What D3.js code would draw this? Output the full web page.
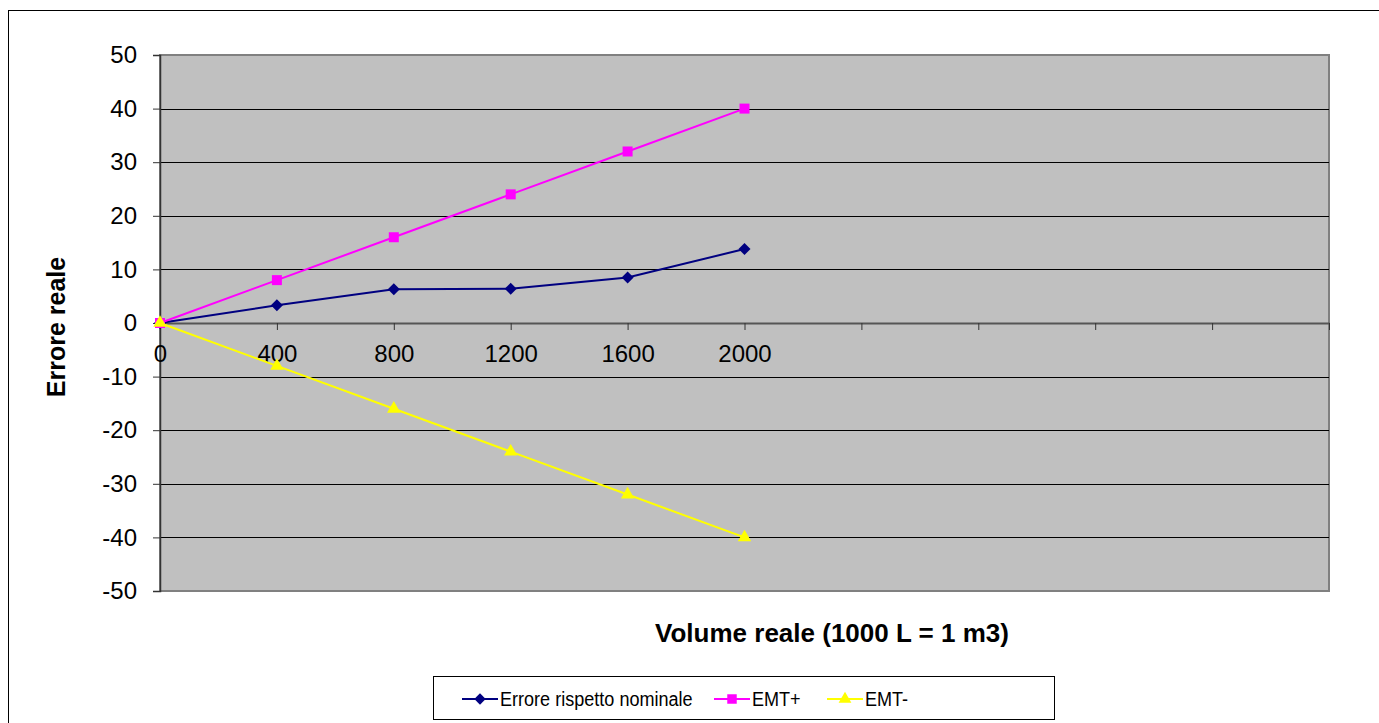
<!DOCTYPE html>
<html>
<head>
<meta charset="utf-8">
<script src="https://cdn.jsdelivr.net/npm/d3@7"></script>
<style>
  body { margin: 0; background: #fff; }
  svg { font-family: "Liberation Sans", Arial, sans-serif; }
</style>
</head>
<body>
<div id="chart"></div>
<script>
// DATA
const volumes = [0, 400, 800, 1200, 1600, 2000];
const errore = [0, 3.3, 6.3, 6.4, 8.5, 13.8];
const emtPlus = [0, 8, 16, 24, 32, 40];
const emtMinus = [0, -8, -16, -24, -32, -40];
const xTicks = [0, 400, 800, 1200, 1600, 2000, 2400, 2800, 3200, 3600, 4000];
const xLabelled = [0, 400, 800, 1200, 1600, 2000];
const yTicks = [-50, -40, -30, -20, -10, 0, 10, 20, 30, 40, 50];

// a diamond is a square turned 45 degrees
const seriesList = [
    { name: "Errore rispetto nominale", values: errore, color: "#000080", symbol: d3.symbolSquare, size: 72, rot: 45 },
    { name: "EMT+", values: emtPlus, color: "#ff00ff", symbol: d3.symbolSquare, size: 100, rot: 0 },
    { name: "EMT-", values: emtMinus, color: "#ffff00", symbol: d3.symbolTriangle, size: 78, rot: 0 }
];

const width = 1379, height = 723;
const plot = { left: 160, right: 1329, top: 55, bottom: 591 };

const svg = d3.select("#chart").append("svg")
    .attr("width", width)
    .attr("height", height);

// outer chart border
svg.append("rect")
    .attr("x", 8.5).attr("y", 10.5)
    .attr("width", width).attr("height", height)
    .attr("fill", "#fff").attr("stroke", "#000").attr("stroke-width", 1);

const x = d3.scaleLinear().domain([0, 4000]).range([plot.left, plot.right]);
const y = d3.scaleLinear().domain([-50, 50]).range([plot.bottom, plot.top]);

// plot area
svg.append("rect")
    .attr("x", plot.left).attr("y", plot.top)
    .attr("width", plot.right - plot.left).attr("height", plot.bottom - plot.top)
    .attr("fill", "#c0c0c0").attr("stroke", "#808080").attr("stroke-width", 2);

// gridlines
svg.append("g")
    .selectAll("line")
    .data(yTicks.filter(d => d !== 50 && d !== -50 && d !== 0))
    .join("line")
    .attr("x1", plot.left).attr("x2", plot.right)
    .attr("y1", d => Math.round(y(d)) + 0.5).attr("y2", d => Math.round(y(d)) + 0.5)
    .attr("stroke", "#000").attr("stroke-width", 1);

// y axis
const yAxis = svg.append("g")
    .attr("transform", `translate(${plot.left},0)`)
    .call(d3.axisLeft(y).tickValues(yTicks).tickSize(7).tickPadding(16).tickFormat(d => String(d)));
yAxis.select(".domain").attr("stroke", "#333").attr("stroke-width", 1.5);
yAxis.selectAll(".tick line").attr("stroke", "#333");
yAxis.selectAll("text").attr("font-size", 24).attr("fill", "#000")
    .attr("font-family", "Liberation Sans, Arial, sans-serif");

// x axis on zero line
const xAxis = svg.append("g")
    .attr("transform", `translate(0,${y(0)})`)
    .call(d3.axisBottom(x).tickValues(xTicks).tickSizeInner(7).tickSizeOuter(0).tickPadding(15)
        .tickFormat(d => xLabelled.includes(d) ? String(d) : ""));
xAxis.select(".domain").attr("stroke", "#555").attr("stroke-width", 2);
xAxis.selectAll(".tick line").attr("stroke", "#333");
xAxis.selectAll("text").attr("font-size", 24).attr("fill", "#000")
    .attr("font-family", "Liberation Sans, Arial, sans-serif");

// series lines and markers
const line = d3.line()
    .x((d, i) => x(volumes[i]))
    .y(d => y(d));

seriesList.forEach(s => {
    svg.append("path")
        .datum(s.values)
        .attr("d", line)
        .attr("fill", "none")
        .attr("stroke", s.color)
        .attr("stroke-width", 2);
});

seriesList.forEach(s => {
    svg.append("g")
        .selectAll("path")
        .data(s.values)
        .join("path")
        .attr("transform", (d, i) => `translate(${x(volumes[i])},${y(d)}) rotate(${s.rot})`)
        .attr("d", d3.symbol().type(s.symbol).size(s.size))
        .attr("fill", s.color);
});

// axis titles
svg.append("text")
    .attr("transform", `translate(65,327) rotate(-90)`)
    .attr("text-anchor", "middle")
    .attr("font-size", 25).attr("font-weight", "bold")
    .text("Errore reale");

svg.append("text")
    .attr("x", 832).attr("y", 642)
    .attr("text-anchor", "middle")
    .attr("font-size", 26).attr("font-weight", "bold")
    .text("Volume reale (1000 L = 1 m3)");

// legend
const legend = svg.append("g");
legend.append("rect")
    .attr("x", 433.5).attr("y", 676.5)
    .attr("width", 621).attr("height", 43)
    .attr("fill", "#fff").attr("stroke", "#000");

const legendX = [462, 714, 827];
seriesList.forEach((s, i) => {
    const g = legend.append("g").attr("transform", `translate(${legendX[i]},699)`);
    g.append("line").attr("x1", 0).attr("x2", 36).attr("stroke", s.color).attr("stroke-width", 2);
    g.append("path").attr("transform", `translate(18,0) rotate(${s.rot})`)
        .attr("d", d3.symbol().type(s.symbol).size(s.size * 0.9))
        .attr("fill", s.color);
    g.append("text")
        .attr("transform", "translate(38,7) scale(0.86,1)")
        .attr("font-size", 21)
        .text(s.name);
});
</script>
</body>
</html>
